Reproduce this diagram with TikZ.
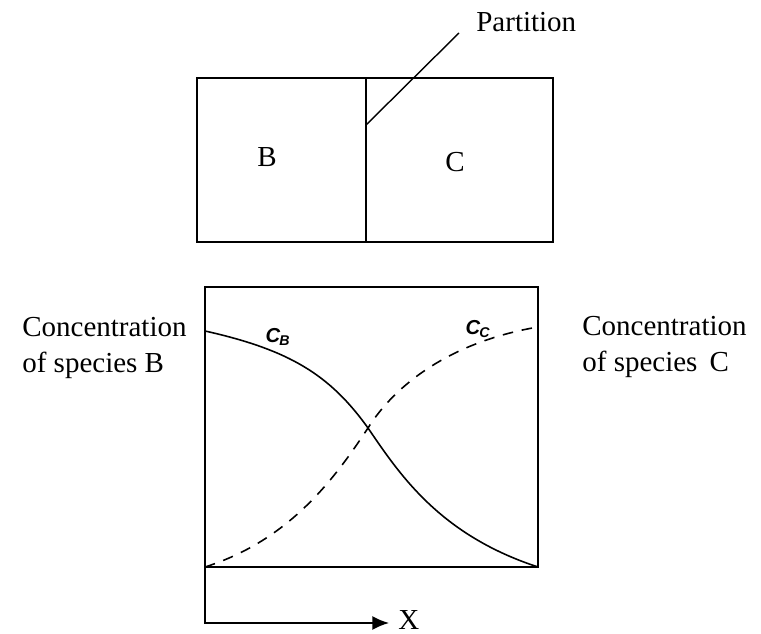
\documentclass[tikz,border=0pt]{standalone}
\usepackage{fontspec}
\setmainfont{Liberation Serif}
\setsansfont{Liberation Sans}
\usetikzlibrary{arrows.meta}
\tikzset{
  tankwall/.style={draw=black, line width=1pt},
  profileline/.style={line width=0.9pt, draw=black},
  profiledash/.style={line width=0.9pt, draw=black, dash pattern=on 6pt off 5pt},
  sidetext/.style={font=\fontsize{16.5}{21}\selectfont, align=left, inner sep=0pt},
  axisname/.style={font=\fontsize{16.5}{19}\selectfont, inner sep=0pt},
  curvename/.style={font=\sffamily\bfseries\itshape\fontsize{11.5}{13}\selectfont, inner sep=0pt},
  xaxis/.style={-{Latex[length=9.5pt,width=8pt]}, line width=1pt}
}

\begin{document}
\begin{tikzpicture}[x=0.02cm, y=-0.02cm]
  \useasboundingbox (0,0) rectangle (761,634);

  % two-compartment tank
  \coordinate (tanktl) at (197,78);
  \coordinate (tankbr) at (553,242);
  \coordinate (parttop) at (366,78);
  \coordinate (partbot) at (366,242);
  \draw[tankwall] (tanktl) rectangle (tankbr);
  \draw[tankwall] (parttop) -- (partbot);
  \node[sidetext] (nameB) at (267,157) {B};
  \node[sidetext] (nameC) at (455,162) {C};

  \coordinate (leadfoot) at (366,125);
  \coordinate (leadend) at (459,33);
  \node[sidetext, anchor=west] (parttext) at (476,22) {Partition};
  \draw[line width=0.8pt] (leadfoot) -- (leadend);

  % concentration profiles
  \coordinate (plottl) at (205,287);
  \coordinate (plotbr) at (538,567);
  \draw[tankwall] (plottl) rectangle (plotbr);

  \coordinate (bstart) at (205,331);
  \coordinate (cross) at (368,428);
  \coordinate (bend) at (538,567);
  \coordinate (cstart) at (205,567);
  \coordinate (cend) at (538,327);
  \draw[profileline] (bstart) .. controls (290,350) and (330,375) .. (cross)
    .. controls (400,475) and (440,535) .. (bend);
  \draw[profiledash] (cstart) .. controls (290,540) and (335,478) .. (cross)
    .. controls (395,385) and (450,342) .. (cend);

  \node[curvename] (labB) at (278,337) {C\textsubscript{\kern-0.5pt B}};
  \node[curvename] (labC) at (478,329) {C\textsubscript{\kern-0.5pt C}};

  \node[sidetext, anchor=west] (concB) at (22,348) {Concentration\\of species B};
  \node[sidetext, anchor=west] (concC) at (582,347) {Concentration\\of species\ \,C};

  % x axis
  \coordinate (axcorner) at (205,623);
  \coordinate (axend) at (389,623);
  \node[axisname, anchor=west] (xname) at (398,620) {X};
  \draw[xaxis] (plottl |- plotbr) -- (axcorner) -- (axend);
\end{tikzpicture}
\end{document}
